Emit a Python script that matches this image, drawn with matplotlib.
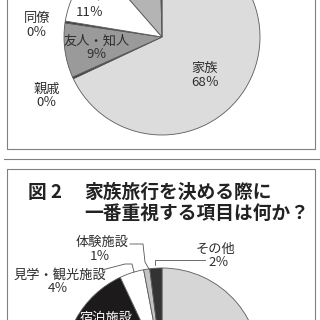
import numpy as np
import matplotlib
matplotlib.use("Agg")
from matplotlib import pyplot as plt

plt.rcParams['font.family'] = ['Noto Sans CJK JP', 'DejaVu Sans']

# ---- top chart (fig.1, only the lower part is visible) ----
top_labels = ['家族', '親戚', '友人・知人', '同僚', 'パートナー', '', '']
top_shares = [68, 0.3, 9, 0.3, 11, 11, 0.4]
top_pct = ['68％', '0％', '9％', '0％', '11％', '', '']
top_colors = ['#dcdcdc', '#3a3a3a', '#9a9a9a', '#3a3a3a', '#ffffff', '#b4b4b4', '#3a3a3a']

# ---- bottom chart (fig.2, only the upper part is visible) ----
bot_labels = ['', '', '宿泊施設', '見学・観光施設', '体験施設', 'その他']
bot_shares = [55, 18, 20, 4, 1, 2]
bot_pct = ['', '', '', '4％', '1％', '2％']
bot_colors = ['#d6d6d6', '#a0a0a0', '#1c1a1a', '#ffffff', '#c4c4c4', '#333333']

W = H = 320


def Y(y):
    # picture rows -> data y
    return H - y


fig = plt.figure(figsize=(3.2, 3.2), dpi=100)
ax = fig.add_axes([0, 0, 1, 1])

wp = dict(edgecolor='#5a5a5a', linewidth=0.6)
ax.pie(top_shares, colors=top_colors, startangle=90, counterclock=False,
       center=(162, Y(37)), radius=98, wedgeprops=wp)
ax.pie(bot_shares, colors=bot_colors, startangle=90, counterclock=False,
       center=(162, Y(366)), radius=98, wedgeprops=wp)

txt = '#2e2e2e'
fs = 9.5

# label positions (picture coords): name, percent
top_pos = {'家族': ((205, 68), (205, 82)),
           '親戚': ((47, 89), (47, 103)),
           '友人・知人': ((97, 41), (97, 55)),
           '同僚': ((37, 18), (37, 33)),
           'パートナー': ((88, -4), (90, 13))}
for name, pct in zip(top_labels, top_pct):
    if name not in top_pos:
        continue
    (x1, y1), (x2, y2) = top_pos[name]
    ax.text(x1, Y(y1), name, ha='center', va='center', fontsize=fs, color=txt)
    ax.text(x2, Y(y2), pct, ha='center', va='center', fontsize=fs, color=txt)

bot_pos = {'見学・観光施設': ((60, 275), (58, 289)),
           '体験施設': ((102, 242), (100, 257)),
           'その他': ((216, 249), (219, 262))}
for name, pct in zip(bot_labels, bot_pct):
    if name not in bot_pos:
        continue
    (x1, y1), (x2, y2) = bot_pos[name]
    ax.text(x1, Y(y1), name, ha='center', va='center', fontsize=fs, color=txt)
    ax.text(x2, Y(y2), pct, ha='center', va='center', fontsize=fs, color=txt)
ax.text(106, Y(318), '宿泊施設', ha='center', va='center', fontsize=fs,
        color='white')

# leader lines
lc = dict(color='#555555', linewidth=0.6)
ax.plot([130, 143, 145, 149], [Y(244), Y(244), Y(262), Y(269)], **lc)
ax.plot([205, 155, 155], [Y(260), Y(260), Y(265)], **lc)
ax.plot([102, 125, 132, 134], [Y(270), Y(264), Y(264), Y(272)], **lc)

# title of fig.2
tfs = 13.5
tc = '#222222'
ax.text(28, Y(192), '図 2', ha='left', va='center', fontsize=tfs,
        fontweight='bold', color=tc)
ax.text(84, Y(192), '家族旅行を決める際に', ha='left', va='center',
        fontsize=tfs, fontweight='bold', color=tc)
ax.text(84, Y(213), '一番重視する項目は何か？', ha='left', va='center',
        fontsize=tfs, fontweight='bold', color=tc)

# panel frames
fc = dict(color='#808080', linewidth=0.8)
ax.plot([7, 7, 315, 315], [Y(-5), Y(149), Y(149), Y(-5)], **fc)
ax.plot([4, 320], [Y(159), Y(159)], **fc)
ax.plot([7, 7, 315, 315], [Y(325), Y(169), Y(169), Y(325)], **fc)

ax.set_xlim(0, W)
ax.set_ylim(0, H)
ax.set_aspect('auto')
ax.axis('off')

fig.savefig('out.png', dpi=100, facecolor='white')
